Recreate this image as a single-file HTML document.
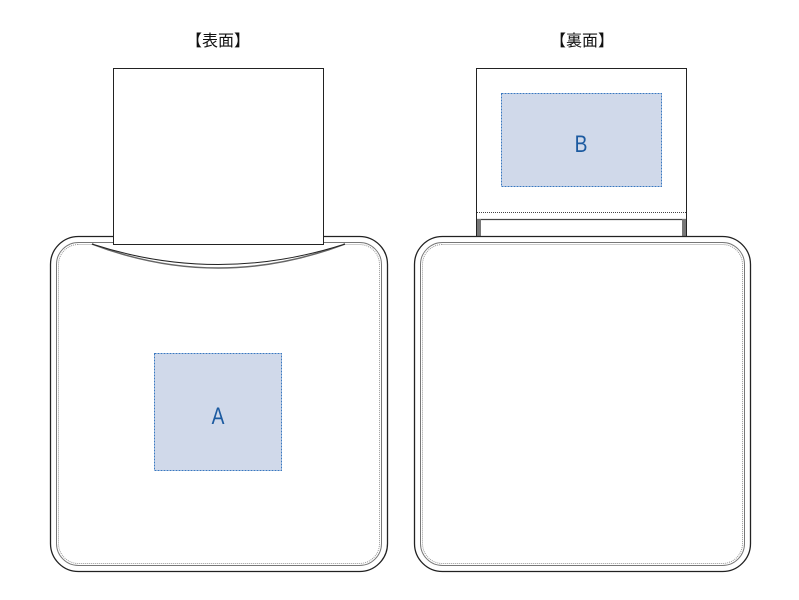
<!DOCTYPE html>
<html><head><meta charset="utf-8"><style>
body{margin:0;background:#fff;}
svg{display:block}
text{font-family:"Liberation Sans","Noto Sans CJK JP",sans-serif;}
</style></head><body>
<svg width="799" height="600" viewBox="0 0 799 600">
<text x="218" y="46" font-size="16" text-anchor="middle" fill="#111">【表面】</text>
<text x="582" y="46" font-size="16" text-anchor="middle" fill="#111">【裏面】</text>

<!-- front -->
<rect x="50.5" y="236.5" width="337" height="335" rx="28" fill="#fff" stroke="#222" stroke-width="1.3"/>
<rect x="56.5" y="242.5" width="325" height="323" rx="22" fill="none" stroke="#777" stroke-width="1" />
<rect x="58.5" y="244.5" width="321" height="319" rx="20" fill="none" stroke="#999" stroke-width="1" stroke-dasharray="1 1"/>
<path d="M92 244 Q218 292 345 244" fill="none" stroke="#666" stroke-width="1.5"/>
<path d="M92 244 Q218 285 345 244" fill="#fff" stroke="#222" stroke-width="1"/>
<rect x="113.5" y="68.5" width="210" height="176" fill="#fff" stroke="#222" stroke-width="1"/>
<rect x="154.5" y="353.5" width="127" height="117" fill="#d0d9ea" stroke="#3a78c0" stroke-width="1" stroke-dasharray="2 1"/>
<text x="218" y="424" font-size="24" text-anchor="middle" fill="#1b5aa0" transform="translate(218 0) scale(0.8 1) translate(-218 0)">A</text>

<!-- back -->
<rect x="476.5" y="68.5" width="210" height="168" fill="#fff" stroke="#222" stroke-width="1"/>
<line x1="477" y1="212.5" x2="686" y2="212.5" stroke="#444" stroke-dasharray="1 1"/>
<line x1="477" y1="219.5" x2="686" y2="219.5" stroke="#444" stroke-width="1.2"/>
<rect x="477" y="219" width="4" height="17" fill="#777"/>
<rect x="682" y="219" width="4" height="17" fill="#777"/>
<rect x="414.5" y="236.5" width="336" height="335" rx="28" fill="#fff" stroke="#222" stroke-width="1.3"/>
<rect x="420.5" y="242.5" width="324" height="323" rx="22" fill="none" stroke="#777" stroke-width="1"/>
<rect x="422.5" y="244.5" width="320" height="319" rx="20" fill="none" stroke="#999" stroke-width="1" stroke-dasharray="1 1"/>
<rect x="501.5" y="93.5" width="160" height="93" fill="#d0d9ea" stroke="#3a78c0" stroke-width="1" stroke-dasharray="2 1"/>
<text x="581" y="152" font-size="24" text-anchor="middle" fill="#1b5aa0" transform="translate(581 0) scale(0.8 1) translate(-581 0)">B</text>
</svg>
</body></html>
